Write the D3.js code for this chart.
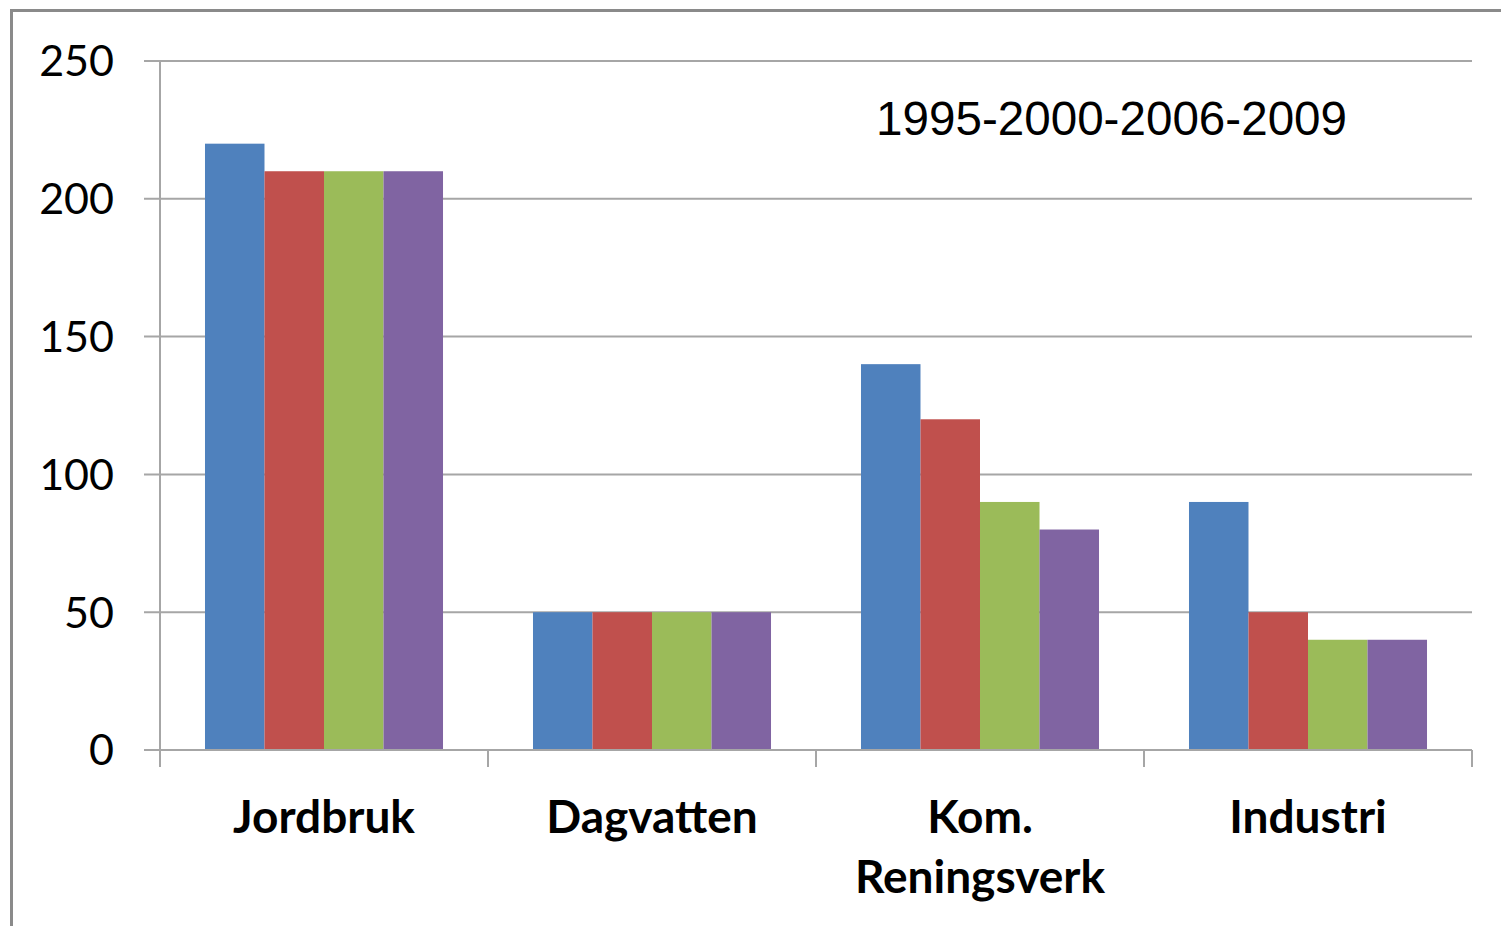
<!DOCTYPE html>
<html>
<head>
<meta charset="utf-8">
<script src="https://cdn.jsdelivr.net/npm/d3@7"></script>
<style>
  body { margin: 0; background: #fff; }
  svg { display: block; }
</style>
</head>
<body>
<div id="chart"></div>
<script>
// data
const categories = ['Jordbruk', 'Dagvatten', 'Kom. Reningsverk', 'Industri'];
const categoryLines = [['Jordbruk'], ['Dagvatten'], ['Kom.', 'Reningsverk'], ['Industri']];
const years = ['1995', '2000', '2006', '2009'];
const values1995 = [220, 50, 140, 90];
const values2000 = [210, 50, 120, 50];
const values2006 = [210, 50, 90, 40];
const values2009 = [210, 50, 80, 40];
const yTicks = [0, 50, 100, 150, 200, 250];
const colors = ['#4F81BD', '#C0504D', '#9BBB59', '#8064A2'];

const series = [values1995, values2000, values2006, values2009];

const width = 1501, height = 926;
const margin = { top: 61, right: 29, bottom: 176, left: 160 };

const svg = d3.select('#chart').append('svg')
  .attr('width', width)
  .attr('height', height);

// outer frame
svg.append('rect')
  .attr('x', 11.5).attr('y', 10.5)
  .attr('width', width + 20).attr('height', height + 20)
  .attr('fill', 'none')
  .attr('stroke', '#8a8a8a')
  .attr('stroke-width', 3);

const g = svg.append('g')
  .attr('transform', `translate(${margin.left},${margin.top})`);

const w = width - margin.left - margin.right;
const h = height - margin.top - margin.bottom;

const x0 = d3.scaleBand().domain(categories).range([0, w]).paddingInner(0).paddingOuter(0);
const x1 = d3.scaleBand().domain(years).range([0, x0.bandwidth()]).paddingInner(0).paddingOuter(0.756);
const y = d3.scaleLinear().domain([0, 250]).range([h, 0]);

// grid lines + y ticks
g.selectAll('.grid').data(yTicks).enter().append('line')
  .attr('class', 'grid')
  .attr('x1', -16).attr('x2', w)
  .attr('y1', d => y(d)).attr('y2', d => y(d))
  .attr('stroke', '#a6a6a6')
  .attr('stroke-width', 2);

g.selectAll('.ylab').data(yTicks).enter().append('text')
  .attr('class', 'ylab')
  .attr('x', -46)
  .attr('y', d => y(d))
  .attr('dy', '0.36em')
  .attr('text-anchor', 'end')
  .style('font-family', 'Lato, "Open Sans", sans-serif')
  .style('font-size', '43px')
  .attr('fill', '#000')
  .text(d => d);

// bars
const groups = g.selectAll('.cat').data(categories).enter().append('g')
  .attr('class', 'cat')
  .attr('transform', d => `translate(${x0(d)},0)`);

groups.selectAll('rect')
  .data((d, i) => years.map((yr, j) => ({ yr, v: series[j][i], c: colors[j] })))
  .enter().append('rect')
  .attr('x', d => x1(d.yr))
  .attr('y', d => y(d.v))
  .attr('width', x1.bandwidth())
  .attr('height', d => h - y(d.v))
  .attr('fill', d => d.c);

// y axis line
g.append('line')
  .attr('x1', 0).attr('x2', 0)
  .attr('y1', 0).attr('y2', h)
  .attr('stroke', '#a6a6a6').attr('stroke-width', 2);

// x axis line and ticks
g.append('line')
  .attr('x1', -16).attr('x2', w)
  .attr('y1', h).attr('y2', h)
  .attr('stroke', '#a6a6a6').attr('stroke-width', 2);

const xTickPos = categories.map(c => x0(c)).concat([w]);
g.selectAll('.xtick').data(xTickPos).enter().append('line')
  .attr('class', 'xtick')
  .attr('x1', d => d).attr('x2', d => d)
  .attr('y1', h).attr('y2', h + 17)
  .attr('stroke', '#a6a6a6').attr('stroke-width', 2);

// category labels
const labels = g.selectAll('.xlab').data(categories).enter().append('text')
  .attr('class', 'xlab')
  .attr('text-anchor', 'middle')
  .attr('transform', d => `translate(${x0(d) + x0.bandwidth() / 2},${h + 83})`)
  .style('font-family', 'Lato, "Open Sans", sans-serif')
  .style('font-weight', 'bold')
  .style('font-size', '46px')
  .attr('fill', '#000');

labels.selectAll('tspan')
  .data((d, i) => categoryLines[i])
  .enter().append('tspan')
  .attr('x', 0)
  .attr('y', (d, i) => i * 60)
  .text(d => d);

// period text
g.append('text')
  .attr('x', x0('Kom. Reningsverk') + 60)
  .attr('y', 74)
  .style('font-family', '"Liberation Sans", Arial, sans-serif')
  .style('font-size', '47.6px')
  .attr('fill', '#000')
  .text(years.join('-'));
</script>
</body>
</html>
